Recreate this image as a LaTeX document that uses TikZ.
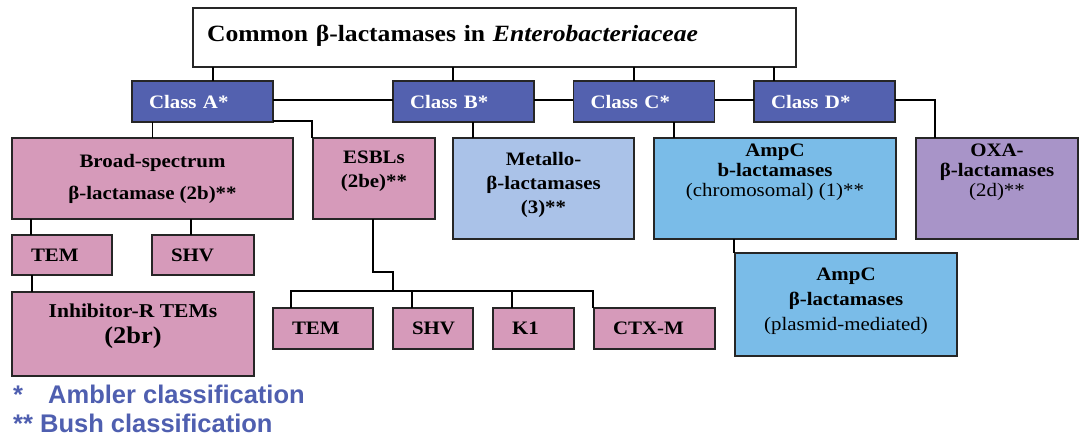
\documentclass[tikz,border=0pt]{standalone}
\usepackage{fontspec}
\setmainfont{Liberation Serif}[FakeStretch=1.1]
\setsansfont{Liberation Sans}
\usepackage{tikz}
\usetikzlibrary{positioning,calc}
\definecolor{betaink}{HTML}{262626}
\definecolor{betaclass}{HTML}{5361AF}
\definecolor{betapink}{HTML}{D69ABA}
\definecolor{betametal}{HTML}{AAC2E8}
\definecolor{betaampc}{HTML}{7ABCE8}
\definecolor{betaoxa}{HTML}{A894C8}
\definecolor{betalegend}{HTML}{4F5FB0}

\begin{document}
\begin{tikzpicture}[x=1pt,y=-1pt,line cap=rect,line join=miter,
  box/.style={draw=betaink,line width=1.6pt,inner sep=0pt,align=center,
    font=\fontsize{19}{24}\selectfont\bfseries},
  pitch/.style={font=\fontsize{19}{#1}\selectfont\bfseries},
  classbox/.style={box,fill=betaclass,text=white,align=left,inner xsep=17pt,
    text width=107pt,minimum height=41pt},
  leafbox/.style={box,fill=betapink,align=left,inner xsep=19pt},
  link/.style={draw=black,line width=1.5pt},
  legend/.style={anchor=base west,inner sep=0pt,text=betalegend,
    font=\fontsize{25.5}{29}\selectfont\sffamily\bfseries}]
\path[use as bounding box] (0,0) rectangle (1080,442);
\fill[white] (0,0) rectangle (1080,442);
% title and the four classes
\node[box,fill=white,align=left,inner xsep=14pt,text width=575pt,minimum height=59pt,
  text depth=8pt,font=\fontsize{23.3}{27}\selectfont\bfseries] (title) at (494.5,37.5)
  {Common β-lactamases in \textit{Enterobacteriaceae}};
\node[classbox] (classA) at (202.5,101.5) {Class A*};
\node[classbox] (classB) at (463.5,101.5) {Class B*};
\node[classbox] (classC) at (644,101.5) {Class C*};
\node[classbox] (classD) at (824.5,101.5) {Class D*};
% enzyme groups
\node[box,fill=betapink,minimum width=281pt,minimum height=81pt,pitch=32] (broad) at (152.5,178.5)
  {Broad-spectrum\\β-lactamase (2b)**};
\node[box,fill=betapink,minimum width=122pt,minimum height=81pt,pitch=24,text depth=18pt] (esbl) at (374,178.5)
  {ESBLs\\(2be)**};
\node[box,fill=betametal,minimum width=181pt,minimum height=101pt,pitch=24,text depth=11pt] (metallo) at (543.5,188.5)
  {Metallo-\\β-lactamases\\(3)**};
\node[box,fill=betaampc,minimum width=242pt,minimum height=101pt,pitch=20,text depth=36pt] (ampc) at (775,188.5)
  {AmpC\\b-lactamases\\{\mdseries(chromosomal) (1)**}};
\node[box,fill=betaoxa,minimum width=162pt,minimum height=101pt,pitch=20,text depth=36pt] (oxa) at (997,188.5)
  {OXA-\\β-lactamases\\{\mdseries(2d)**}};
\node[box,fill=betaampc,minimum width=222pt,minimum height=103pt,pitch=25,text depth=11pt] (plasmid) at (846,304.5)
  {AmpC\\β-lactamases\\{\mdseries(plasmid-mediated)}};
% broad-spectrum types
\node[leafbox,text width=62pt,minimum height=40pt] (temA) at (62,255) {TEM};
\node[leafbox,text width=64pt,minimum height=40pt] (shvA) at (203,255) {SHV};
\node[box,fill=betapink,minimum width=242pt,minimum height=84pt,pitch=26,text depth=20pt] (inhib) at (133,334)
  {\fontsize{19.6}{26}\selectfont Inhibitor-R TEMs\\{\fontsize{24}{26}\selectfont(2br)}};
% ESBL types
\node[leafbox,text width=62pt,minimum height=41pt] (temB) at (323,328.5) {TEM};
\node[leafbox,text width=42pt,minimum height=41pt] (shvB) at (433,328.5) {SHV};
\node[leafbox,text width=43pt,minimum height=41pt] (kone) at (533.5,328.5) {K1};
\node[leafbox,text width=83pt,minimum height=41pt] (ctx) at (654.5,328.5) {CTX-M};
% connectors
\draw[link] ($(classA.north)+(10.5,0)$) -- ($(classA.north |- title.south)+(10.5,0)$);
\draw[link] ($(classB.north)+(-10.5,0)$) -- ($(classB.north |- title.south)+(-10.5,0)$);
\draw[link] ($(classC.north)+(-10,0)$) -- ($(classC.north |- title.south)+(-10,0)$);
\draw[link] ($(classD.north)+(-50.5,0)$) -- ($(classD.north |- title.south)+(-50.5,0)$);
\draw[link] ($(classA.east)+(0,-1.5)$) -- ($(classB.west)+(0,-1.5)$);
\draw[link] ($(classB.east)+(0,-1.5)$) -- ($(classC.west)+(0,-1.5)$);
\draw[link] ($(classC.east)+(0,-1.5)$) -- ($(classD.west)+(0,-1.5)$);
\draw[link] ($(classD.east)+(0,-1.5)$) -| ($(oxa.north west)+(20,0)$);
\draw[link] ($(classA.south east)+(0,-2)$) -| (esbl.north west);
\draw[link] (broad.north) -- (broad.north |- classA.south);
\draw[link] ($(classB.south)+(9.5,0)$) -- ($(classB.south |- metallo.north)+(9.5,0)$);
\draw[link] ($(classC.south)+(30,0)$) -- ($(classC.south |- ampc.north)+(30,0)$);
\draw[link] (plasmid.north west) -- (plasmid.north west |- ampc.south);
\draw[link] ($(temA.north west)+(20,0)$) -- ($(temA.north west |- broad.south)+(20,0)$);
\draw[link] ($(shvA.north west)+(40,0)$) -- ($(shvA.north west |- broad.south)+(40,0)$);
\draw[link] ($(inhib.north west)+(21,0)$) -- ($(inhib.north west |- temA.south)+(21,0)$);
\coordinate (esblbus) at (393,291);
\draw[link] ($(esbl.south)+(-1,0)$) -- ++(0,52) -| (esblbus);
\draw[link] ($(temB.north west)+(19,0)$) |- (esblbus -| ctx.north west) -- (ctx.north west);
\draw[link] ($(shvB.north west)+(20,0)$) -- ($(shvB.north west |- esblbus)+(20,0)$);
\draw[link] ($(kone.north west)+(20,0)$) -- ($(kone.north west |- esblbus)+(20,0)$);
% legend
\node[legend] (ambler) at (13,403) {\makebox[35pt][l]{*}Ambler classification};
\node[legend] (bush) at (13,432) {** Bush classification};
\end{tikzpicture}
\end{document}
